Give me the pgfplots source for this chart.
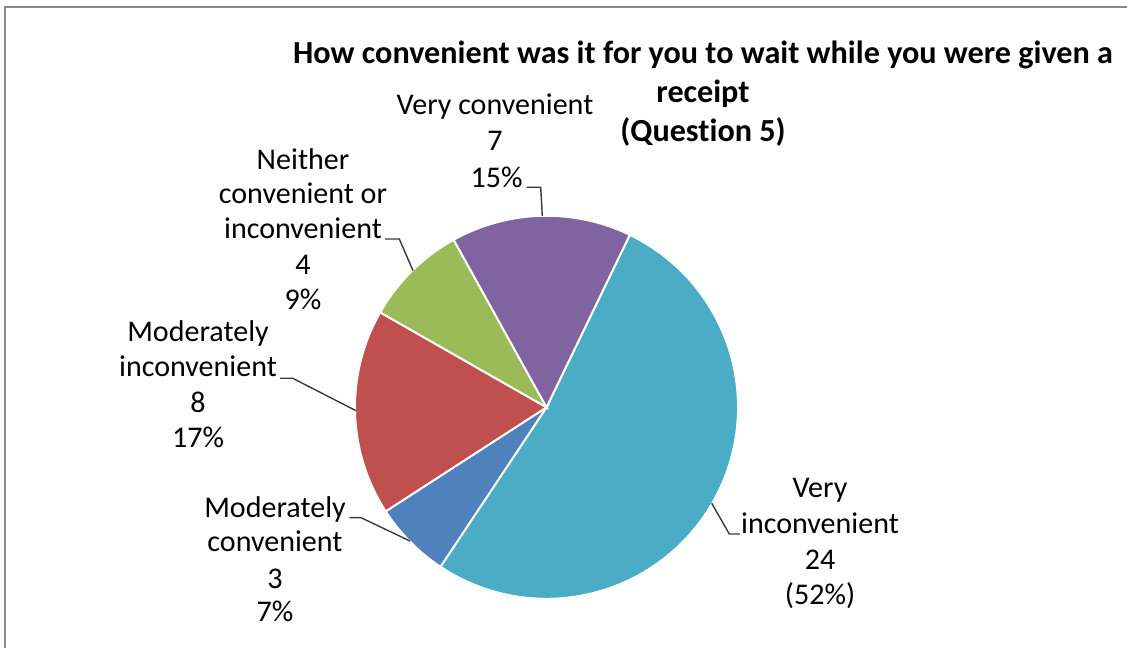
\documentclass[border=0pt]{standalone}
\usepackage{pgfplots}
\pgfplotsset{compat=1.18}
\usepackage{fontspec}
\setmainfont{Carlito}[Ligatures=NoCommon]
\definecolor{cVI}{HTML}{4BACC6}
\definecolor{cMC}{HTML}{4F81BD}
\definecolor{cMI}{HTML}{C0504D}
\definecolor{cNC}{HTML}{9BBB59}
\definecolor{cVC}{HTML}{8064A2}
\definecolor{frame}{HTML}{898989}
\definecolor{lead}{HTML}{3A3A3A}
\newcommand\lbl{\fontsize{8.55}{10}\selectfont}
\newcommand\ttl{\bfseries\fontsize{9.15}{11}\selectfont}
% counts (clockwise from the first slice)
\def\nVI{24}\def\nMC{3}\def\nMI{8}\def\nNC{4}\def\nVC{7}
\pgfmathsetmacro\tot{\nVI+\nMC+\nMI+\nNC+\nVC}
\pgfmathsetmacro\aA{64.2}
\pgfmathsetmacro\aB{\aA-\nVI/\tot*360}
\pgfmathsetmacro\aC{\aB-\nMC/\tot*360}
\pgfmathsetmacro\aD{\aC-\nMI/\tot*360}
\pgfmathsetmacro\aE{\aD-\nNC/\tot*360}
\pgfmathsetmacro\aF{\aE-\nVC/\tot*360}
\def\cx{546.5}\def\cy{407.3}\def\R{191.5}
\begin{document}
\begin{tikzpicture}
\begin{axis}[
  width=11.27cm, height=6.48cm, scale only axis,
  xmin=0, xmax=1127, ymin=0, ymax=648, y dir=reverse,
  hide axis, clip=false,
  every axis plot/.append style={draw=white, line width=0.55pt, samples=90, variable=\t},
  nodes={inner sep=0pt},
]
\addplot[fill=cVI, domain=\aB:\aA] ({\cx+\R*cos(t)},{\cy-\R*sin(t)}) -- (axis cs:\cx,\cy) -- cycle;
\addplot[fill=cMC, domain=\aC:\aB] ({\cx+\R*cos(t)},{\cy-\R*sin(t)}) -- (axis cs:\cx,\cy) -- cycle;
\addplot[fill=cMI, domain=\aD:\aC] ({\cx+\R*cos(t)},{\cy-\R*sin(t)}) -- (axis cs:\cx,\cy) -- cycle;
\addplot[fill=cNC, domain=\aE:\aD] ({\cx+\R*cos(t)},{\cy-\R*sin(t)}) -- (axis cs:\cx,\cy) -- cycle;
\addplot[fill=cVC, domain=\aF:\aE] ({\cx+\R*cos(t)},{\cy-\R*sin(t)}) -- (axis cs:\cx,\cy) -- cycle;
% frame
\draw[frame, line width=0.65pt] (axis cs:5.3,648) -- (axis cs:5.3,7.2) -- (axis cs:1127,7.2);
% title
\node[anchor=base, font=\ttl] at (axis cs:703,63.5) {How convenient was it for you to wait while you were given a};
\node[anchor=base, font=\ttl] at (axis cs:703,102.5) {receipt};
\node[anchor=base, font=\ttl] at (axis cs:703,142) {(Question 5)};
% leader lines
\draw[lead, line width=0.4pt] (axis cs:526.7,187.3) -- (axis cs:540.7,187.3) -- (axis cs:542.3,216);
\draw[lead, line width=0.4pt] (axis cs:385,239) -- (axis cs:399.3,239) -- (axis cs:413,270.7);
\draw[lead, line width=0.4pt] (axis cs:280,378.3) -- (axis cs:292.7,378.3) -- (axis cs:356,410.7);
\draw[lead, line width=0.4pt] (axis cs:349.3,517.7) -- (axis cs:361,517.7) -- (axis cs:410,541);
\draw[lead, line width=0.4pt] (axis cs:711.7,503.3) -- (axis cs:729.3,534) -- (axis cs:740,534);
% labels
\node[anchor=base, font=\lbl] at (axis cs:495,115) {Very convenient};
\node[anchor=base, font=\lbl] at (axis cs:495,150.7) {7};
\node[anchor=base, font=\lbl] at (axis cs:496.5,187.3) {15\%};
\node[anchor=base, font=\lbl] at (axis cs:303,169.3) {Neither};
\node[anchor=base, font=\lbl] at (axis cs:303,204) {convenient or};
\node[anchor=base, font=\lbl] at (axis cs:303,239) {inconvenient};
\node[anchor=base, font=\lbl] at (axis cs:303,275) {4};
\node[anchor=base, font=\lbl] at (axis cs:303,310) {9\%};
\node[anchor=base, font=\lbl] at (axis cs:198,341.7) {Moderately};
\node[anchor=base, font=\lbl] at (axis cs:198,376.7) {inconvenient};
\node[anchor=base, font=\lbl] at (axis cs:198,412.7) {8};
\node[anchor=base, font=\lbl] at (axis cs:198,447.3) {17\%};
\node[anchor=base, font=\lbl] at (axis cs:275,517.3) {Moderately};
\node[anchor=base, font=\lbl] at (axis cs:275,551.7) {convenient};
\node[anchor=base, font=\lbl] at (axis cs:275,588.3) {3};
\node[anchor=base, font=\lbl] at (axis cs:275,621.7) {7\%};
\node[anchor=base, font=\lbl] at (axis cs:820,497.3) {Very};
\node[anchor=base, font=\lbl] at (axis cs:820,533.3) {inconvenient};
\node[anchor=base, font=\lbl] at (axis cs:820,570) {24};
\node[anchor=base, font=\lbl] at (axis cs:820,605) {(52\%)};
\end{axis}
\pgfresetboundingbox
\path (0,0) rectangle (11.27cm,6.48cm);
\end{tikzpicture}
\end{document}
